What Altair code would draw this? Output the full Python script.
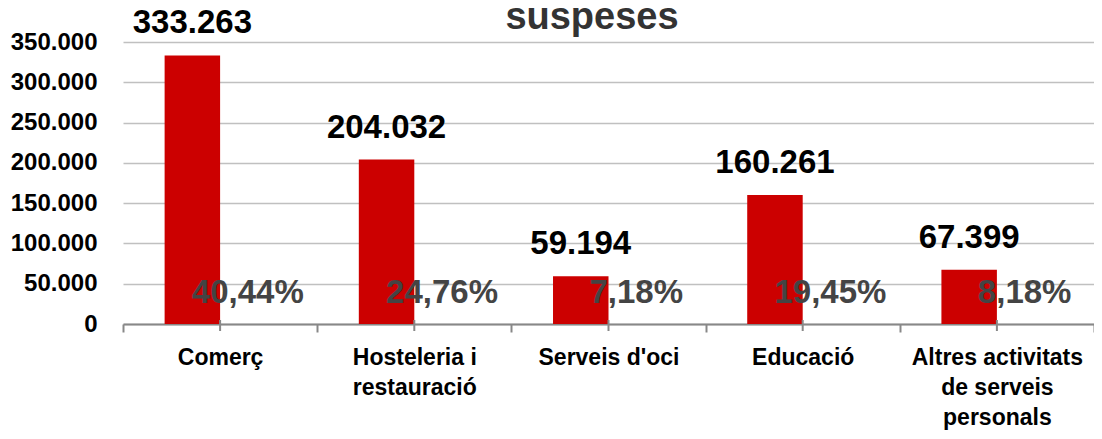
import altair as alt
import pandas as pd

categories = ["Comerç", "Hosteleria i|restauració", "Serveis d'oci", "Educació",
              "Altres activitats|de serveis|personals"]
values = [333263, 204032, 59194, 160261, 67399]
percents = [40.44, 24.76, 7.18, 19.45, 8.18]
y_ticks = [0, 50000, 100000, 150000, 200000, 250000, 300000, 350000]
title_text = "suspeses"

rows = []
for c, v, p in zip(categories, values, percents):
    rows.append({"cat": c, "series": "v", "value": v,
                 "label": f"{v:,}".replace(",", ".")})
    rows.append({"cat": c, "series": "p", "value": 0,
                 "label": f"{p:.2f}".replace(".", ",") + "%"})
df = pd.DataFrame(rows)

FONT = "Liberation Sans"

x_enc = alt.X("cat:N", sort=categories,
              scale=alt.Scale(paddingInner=0, paddingOuter=0),
              axis=alt.Axis(title=None, labelExpr="split(datum.label, '|')",
                            labelAngle=0, labelFont=FONT, labelFontSize=23,
                            labelFontWeight="bold", labelColor="#000000",
                            labelLineHeight=30, labelPadding=14, labelLimit=400,
                            tickBand="extent", tickSize=8, tickColor="#888888",
                            tickWidth=2, domainColor="#888888", domainWidth=2,
                            grid=False, labelBaseline="top"))
xoff = alt.XOffset("series:N", scale=alt.Scale(domain=["v", "p"], paddingInner=0,
                                               paddingOuter=0.75))
y_scale = alt.Scale(domain=[0, 350000], nice=False)
y_enc = alt.Y("value:Q", scale=y_scale,
              axis=alt.Axis(title=None, values=y_ticks,
                            labelExpr="replace(format(datum.value, ','), ',', '.')",
                            labelFont=FONT, labelFontSize=24, labelFontWeight="bold",
                            labelColor="#000000", labelPadding=26, domain=False,
                            ticks=False, grid=True, gridColor="#C0C0C0",
                            gridWidth=1.5))

base = alt.Chart(df)

bars = base.transform_filter("datum.series == 'v'").mark_bar(color="#CC0000").encode(
    x=x_enc, xOffset=xoff, y=y_enc)

val_text = base.transform_filter("datum.series == 'v'").mark_text(
    font=FONT, fontSize=33, fontWeight="bold", color="#000000",
    baseline="alphabetic", dy=-22).encode(
    x=alt.X("cat:N", sort=categories), xOffset=xoff, y=alt.Y("value:Q"), text="label:N")

pct_text = base.transform_filter("datum.series == 'p'").mark_text(
    font=FONT, fontSize=33, fontWeight="bold", color="#444444",
    baseline="alphabetic", dy=-21).encode(
    x=alt.X("cat:N", sort=categories), xOffset=xoff, y=alt.Y("value:Q"), text="label:N")

mid_ticks = base.transform_filter("datum.series == 'v'").mark_rule(
    color="#888888", strokeWidth=2).encode(
    x=alt.X("cat:N", sort=categories), y=alt.value(278), y2=alt.value(289))

title = alt.Chart(pd.DataFrame({"t": [title_text]})).mark_text(
    font=FONT, fontSize=38, fontWeight="bold", color="#333333",
    baseline="alphabetic", align="center").encode(
    text="t:N", x=alt.value(469), y=alt.value(-13))

chart = alt.layer(bars, mid_ticks, val_text, pct_text, title).properties(
    width=971, height=282,
    autosize=alt.AutoSizeParams(type="none"),
    padding={"left": 115, "top": 34, "right": 0, "bottom": 107},
).configure_view(stroke=None)

chart.save("out.html", embed_options={"renderer": "svg", "actions": False})
